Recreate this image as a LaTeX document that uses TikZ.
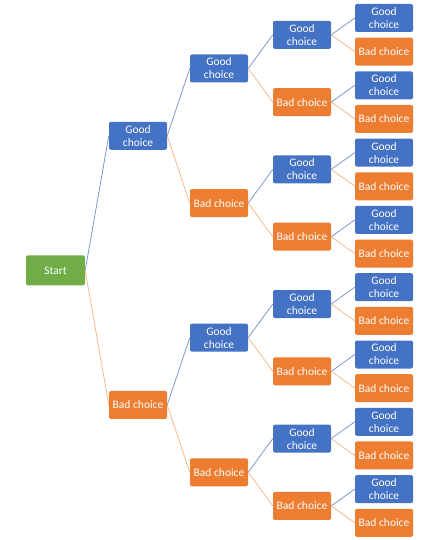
\documentclass[tikz,border=0pt]{standalone}
\usepackage{fontspec}
\setmainfont{Carlito}
\definecolor{gblue}{HTML}{4472C4}
\definecolor{borange}{HTML}{ED7D31}
\definecolor{sgreen}{HTML}{70AD47}
\definecolor{bluel}{HTML}{7F97CC}
\definecolor{orangel}{HTML}{F5B98E}
\tikzset{
  box/.style={rectangle, rounded corners=2pt, minimum width=58pt, minimum height=28pt,
    inner sep=0pt, text=white, align=center, font=\fontsize{11.5}{13}\selectfont},
  good/.style={box, fill=gblue},
  bad/.style={box, fill=borange},
  startbox/.style={box, fill=sgreen, minimum width=59pt, minimum height=30pt},
  goodline/.style={draw=bluel, line width=0.8pt},
  badline/.style={draw=orangel, line width=0.8pt},
}
\begin{document}
\begin{tikzpicture}[x=1pt,y=-1pt]
\useasboundingbox (0,0) rectangle (440,540);
\node[startbox] (n0-0) at (55.5,270.4) {Start};
\foreach \L/\x in {1/138,2/219,3/302,4/384} {
  \pgfmathtruncatemacro\n{2^\L-1}
  \pgfmathtruncatemacro\Lp{\L-1}
  \pgfmathtruncatemacro\span{2^(4-\L)}
  \foreach \i in {0,...,\n} {
    \pgfmathtruncatemacro\ip{floor(\i/2)}
    \pgfmathsetmacro\yy{18+33.65*((\i+0.5)*\span-0.5)}
    \ifodd\i
      \node[bad] (n\L-\i) at (\x,\yy) {Bad choice};
      \draw[badline] (n\Lp-\ip.east) -- (n\L-\i.west);
    \else
      \node[good] (n\L-\i) at (\x,\yy) {Good\\choice};
      \draw[goodline] (n\Lp-\ip.east) -- (n\L-\i.west);
    \fi
  }
}
\end{tikzpicture}
\end{document}
